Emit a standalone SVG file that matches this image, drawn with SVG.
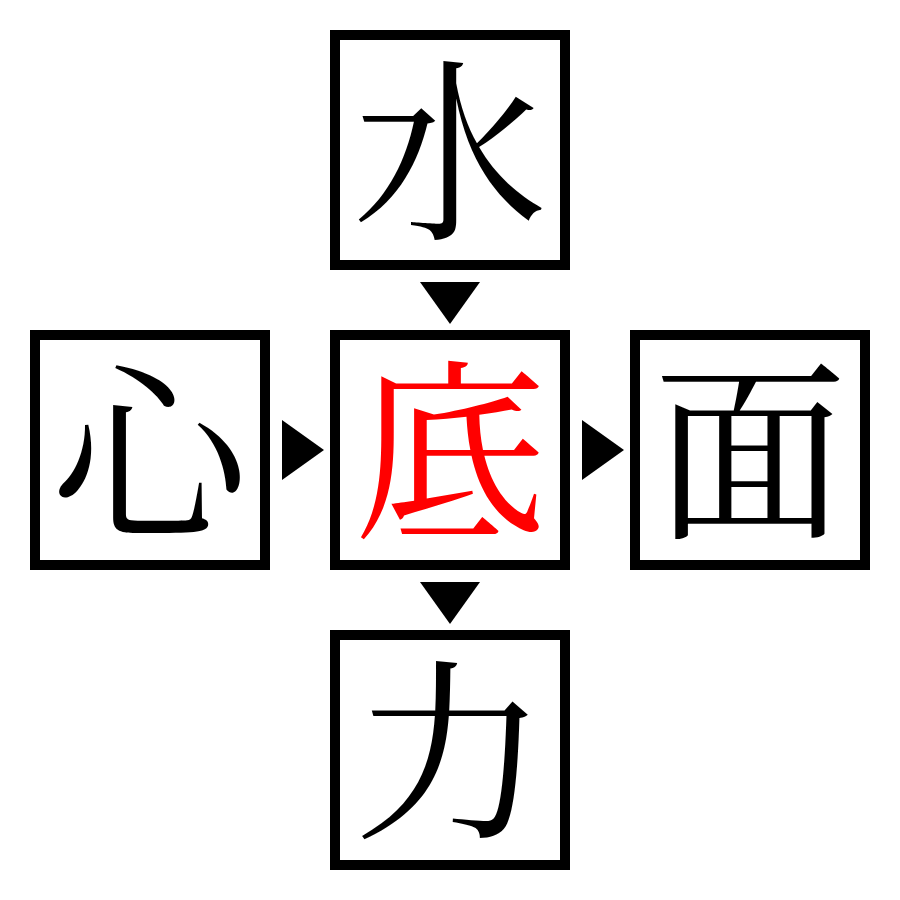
<svg xmlns="http://www.w3.org/2000/svg" width="900" height="900" viewBox="0 0 900 900">
<style>
.box{fill:#fff;stroke:#000;stroke-width:10}
.ch{font-family:"Noto Serif CJK JP","Noto Sans CJK JP",serif;font-size:194px;text-anchor:middle;dominant-baseline:central;fill:#000}
.hl{fill:#f00}
.arr{fill:#000}
</style>
<rect width="900" height="900" fill="#fff"/>
<g id="n-top"><rect class="box" x="335" y="35" width="230" height="230"/><text class="ch" x="450" y="140">水</text></g>
<g id="n-left"><rect class="box" x="35" y="335" width="230" height="230"/><text class="ch" x="150" y="440">心</text></g>
<g id="n-center"><rect class="box" x="335" y="335" width="230" height="230"/><text class="ch hl" x="450" y="440">底</text></g>
<g id="n-right"><rect class="box" x="635" y="335" width="230" height="230"/><text class="ch" x="750" y="440">面</text></g>
<g id="n-bottom"><rect class="box" x="335" y="635" width="230" height="230"/><text class="ch" x="450" y="740">力</text></g>
<g id="connectors">
<polygon class="arr" points="420,282 480,282 450,324"/>
<polygon class="arr" points="282,420 282,480 324,450"/>
<polygon class="arr" points="582,420 582,480 624,450"/>
<polygon class="arr" points="420,582 480,582 450,624"/>
</g>
</svg>
